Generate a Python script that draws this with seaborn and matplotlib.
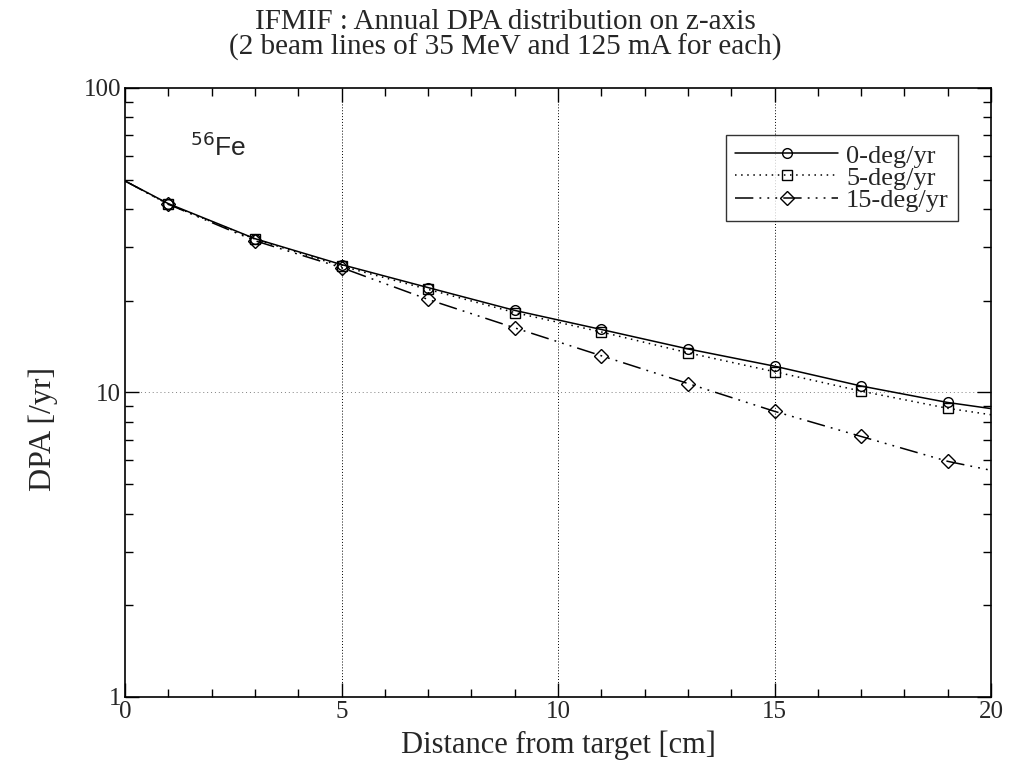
import numpy as np
import pandas as pd
import matplotlib
matplotlib.use("Agg")
import matplotlib.pyplot as plt
import seaborn as sns
from matplotlib.ticker import LogLocator, NullFormatter, MultipleLocator, FixedLocator, FixedFormatter

# Data
distance = [0, 1, 3, 5, 7, 9, 11, 13, 15, 17, 19, 20]
dpa_0deg = [49.5, 41.7, 32.0, 26.3, 22.1, 18.6, 16.1, 13.9, 12.2, 10.5, 9.27, 8.85]
dpa_5deg = [49.5, 41.5, 31.9, 26.0, 21.8, 18.3, 15.8, 13.5, 11.7, 10.1, 8.87, 8.45]
dpa_15deg = [49.5, 41.5, 31.5, 25.7, 20.2, 16.3, 13.2, 10.7, 8.67, 7.17, 5.94, 5.55]
series_names = ["0-deg/yr", "5-deg/yr", "15-deg/yr"]

sns.set_theme(style="ticks")
plt.rcParams['font.family'] = ['Liberation Serif', 'DejaVu Serif']

fig = plt.figure(figsize=(10.1, 7.8), dpi=100)
ax = fig.add_axes([0.1238, 0.1065, 0.8574, 0.7807])

df = pd.DataFrame({
    "Distance": distance * 3,
    "DPA": dpa_0deg + dpa_5deg + dpa_15deg,
    "Series": sum([[n] * len(distance) for n in series_names], []),
})

styles = {
    "0-deg/yr": dict(ls="-", marker="o", ms=7),
    "5-deg/yr": dict(ls=(0, (1, 3)), marker="s", ms=6.5),
    "15-deg/yr": dict(ls=(0, (12, 4, 1.2, 4, 1.2, 4, 1.2, 4)), marker="D", ms=7.5),
}
mark_idx = list(range(1, 11))
for name in series_names:
    sub = df[df["Series"] == name]
    st = styles[name]
    sns.lineplot(data=sub, x="Distance", y="DPA", ax=ax, color="black",
                 linestyle=st["ls"], linewidth=1.1, marker=st["marker"],
                 markersize=st["ms"], markerfacecolor="none",
                 markeredgecolor="black", markeredgewidth=1.0,
                 markevery=mark_idx, label=name, estimator=None)

ax.set_yscale("log")
ax.set_xlim(0, 20)
ax.set_ylim(1, 100)
ax.xaxis.set_major_locator(MultipleLocator(5))
ax.xaxis.set_minor_locator(MultipleLocator(1))
ax.yaxis.set_major_locator(FixedLocator([1, 10, 100]))
ax.yaxis.set_major_formatter(FixedFormatter(["1", "10", "100"]))
ax.yaxis.set_minor_locator(LogLocator(base=10, subs=np.arange(2, 10)))
ax.yaxis.set_minor_formatter(NullFormatter())

ax.tick_params(which="both", direction="in", top=True, right=True, color="black")
ax.tick_params(which="major", length=10, width=1, labelsize=18, pad=3)
ax.tick_params(which="minor", length=6, width=1)
for s in ax.spines.values():
    s.set_color("black")
    s.set_linewidth(1.2)

for xv in [5, 10, 15]:
    ax.axvline(xv, color="black", ls=(0, (1, 2)), lw=0.7, zorder=0)
ax.axhline(10, color="gray", ls=(0, (1, 3)), lw=0.7, zorder=0)

ax.set_xlabel("Distance from target [cm]", fontsize=22, labelpad=5)
ax.set_ylabel("DPA [/yr]", fontsize=23)
ax.yaxis.set_label_coords(-0.077, 0.44)
fig.suptitle("IFMIF : Annual DPA distribution on z-axis\n(2 beam lines of 35 MeV and 125 mA for each)",
             x=0.5, y=0.988, fontsize=21, linespacing=0.92, va="top")

ax.text(1.5, 64, r"$^{56}$Fe", fontsize=19, family=["Liberation Sans", "DejaVu Sans"],
        ha="left", va="center")

leg = ax.legend(loc="upper right", bbox_to_anchor=(0.962, 0.923), fontsize=19,
                frameon=True, fancybox=False, edgecolor="black", handlelength=3.9,
                borderpad=0.35, labelspacing=-0.05, handletextpad=0.3, borderaxespad=0)
leg.get_frame().set_linewidth(1.0)

fig.savefig("out.png", dpi=100)
